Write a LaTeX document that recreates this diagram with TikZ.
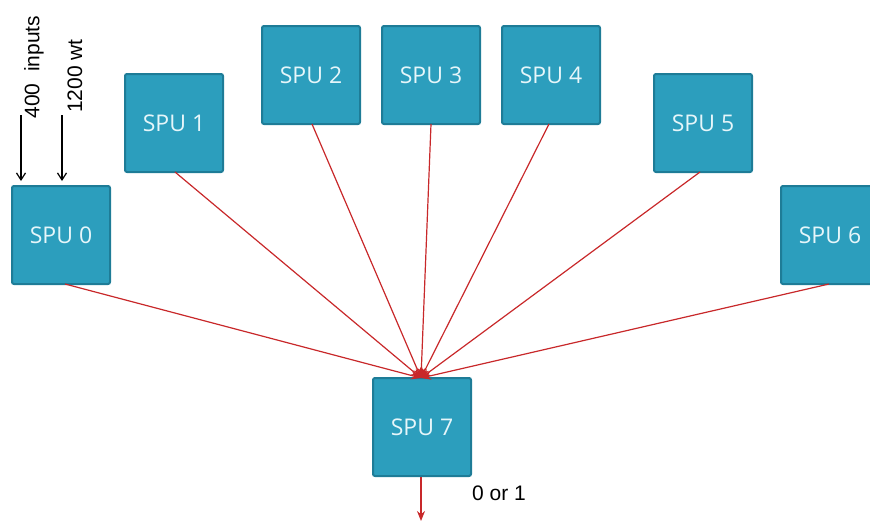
\documentclass[tikz,border=0pt]{standalone}
\usepackage{fontspec}
\setmainfont{Open Sans}
\newfontfamily\labfont{Liberation Sans}
\usetikzlibrary{arrows.meta}
\definecolor{spufill}{HTML}{2C9EBD}
\definecolor{spuedge}{HTML}{1E7C97}
\definecolor{sputext}{HTML}{E6F6FA}
\definecolor{linkred}{HTML}{C8282A}
\begin{document}
\begin{tikzpicture}[x=1pt,y=-1pt,
  spubox/.style={draw=spuedge,line width=2pt,fill=spufill,rounded corners=2pt,
    minimum width=98pt,minimum height=98pt,inner sep=0pt,
    text=sputext,font=\fontsize{23}{26}\selectfont},
  link/.style={draw=linkred,line width=1.2pt,-{Stealth[length=10pt,width=8pt]}},
  inarrow/.style={draw=black,line width=1.2pt,-{Straight Barb[length=7pt,width=9pt]}},
  lab/.style={font=\labfont\fontsize{21}{24}\selectfont,text=black,inner sep=0pt}]
\useasboundingbox (0,0) rectangle (870,522);
\begin{scope}
\clip (0,0) rectangle (870,522);
\node[spubox] (s0) at (61,235) {SPU 0};
\node[spubox] (s1) at (174,123) {SPU 1};
\node[spubox] (s2) at (311,75) {SPU 2};
\node[spubox] (s3) at (431,75) {SPU 3};
\node[spubox] (s4) at (551,75) {SPU 4};
\node[spubox] (s5) at (703,123) {SPU 5};
\node[spubox] (s6) at (830,235) {SPU 6};
\node[spubox] (s7) at (422,427) {SPU 7};
\end{scope}
\coordinate (hub) at (421,378);
\coordinate (e0) at (65,284);
\coordinate (e1) at (175,172);
\coordinate (e2) at (312,124);
\coordinate (e3) at (431,124);
\coordinate (e4) at (549,124);
\coordinate (e5) at (700,172);
\coordinate (e6) at (829,284);
\foreach \e in {e0,e1,e2,e3,e4,e5,e6} \draw[link] (\e) -- (hub);
\coordinate (o0) at (421,477);
\coordinate (o1) at (421,521);
\draw[link] (o0) -- (o1);
\node[lab,anchor=west] (out) at (472,493) {0 or 1};
\coordinate (a0) at (21,115);
\coordinate (a1) at (21,181);
\coordinate (b0) at (62,115);
\coordinate (b1) at (62,181);
\draw[inarrow] (a0) -- (a1);
\draw[inarrow] (b0) -- (b1);
\node[lab,rotate=90,anchor=center] (l400) at (34,67) {400\ \ inputs};
\node[lab,rotate=90,anchor=center] (l1200) at (75,76) {1200 wt};
\end{tikzpicture}
\end{document}
